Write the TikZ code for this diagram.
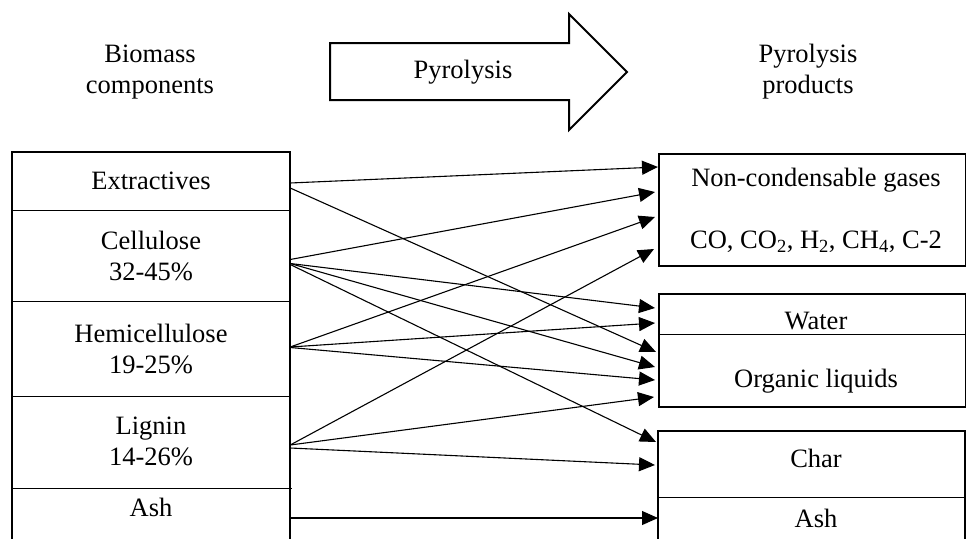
\documentclass[tikz,border=0pt]{standalone}
\usepackage{fontspec}
\setmainfont{Liberation Serif}
\usetikzlibrary{arrows.meta,calc}
\begin{document}
\begin{tikzpicture}[x=1pt,y=-1pt,
  txt/.style={font=\fontsize{26.5}{31}\selectfont, inner sep=0pt, align=center},
  lcomp/.style={txt, minimum width=278pt},
  frame/.style={line width=2.4pt},
  sep/.style={line width=1pt},
  flow/.style={line width=1.1pt, -{Triangle[length=16pt,width=14pt]}},
]
\useasboundingbox (0,0) rectangle (966,538);

% headers
\node[txt] (hleft) at (150,72) {Biomass\\components};
\node[txt] (hright) at (808,72) {Pyrolysis\\products};
\draw[frame, line width=2pt] (330,43) -- (569,43) -- (569,14) -- (627,72) -- (569,130) -- (569,100) -- (330,100) -- cycle;
\node[txt] (pyro) at (463,72) {Pyrolysis};

% left compartments
\node[lcomp, minimum height=58pt] (ext) at (151,181) {Extractives};
\node[lcomp, minimum height=91pt] (cel) at (151,255.5) {Cellulose\\32-45\%};
\node[lcomp, minimum height=95pt] (hem) at (151,348.5) {Hemicellulose\\19-25\%};
\node[lcomp, minimum height=92pt] (lig) at (151,441) {Lignin\\14-26\%};
\node[lcomp, minimum height=38pt] (ash) at (151,507) {Ash};
\draw[frame] (12,540) -- (12,152) -- (290,152) -- (290,540);
\draw[sep] (ext.south west) -- (ext.south east);
\draw[sep] (cel.south west) -- (cel.south east);
\draw[sep] (hem.south west) -- (hem.south east);
\draw[sep] (12,488) -- (292,488);

% right boxes
\node[draw, frame, minimum width=307pt, minimum height=112pt, inner sep=0pt, anchor=north west] (gas) at (658,153) {};
\node[txt] (gasA) at (816,180) {Non-condensable gases};
\node[txt] (gasB) at (816,242) {CO, CO\textsubscript{2}, H\textsubscript{2}, CH\textsubscript{4}, C-2};
\node[draw, frame, minimum width=307pt, minimum height=113pt, inner sep=0pt, anchor=north west] (liq) at (658,293) {};
\draw[sep] (658,334) -- (965,334);
\node[txt] (wat) at (816,321) {Water};
\node[txt] (org) at (816,381) {Organic liquids};
\draw[frame] (658,540) -- (658,431) -- (965,431) -- (965,540);
\draw[sep] (658,497) -- (965,497);
\node[txt] (char) at (816,458) {Char};
\node[txt] (ash2) at (816,518) {Ash};

% target points
\coordinate (g1) at (658,167);
\coordinate (g2) at (655,192);
\coordinate (g3) at (655,217);
\coordinate (g4) at (654,249);
\coordinate (w1) at (655,308);
\coordinate (w2) at (655,323);
\coordinate (o1) at (656,352);
\coordinate (o2) at (655,367);
\coordinate (o3) at (655,380);
\coordinate (o4) at (654,397);
\coordinate (c1) at (656,442);
\coordinate (c2) at (655,465);
\coordinate (a1) at (658,518);

% connectors
\draw[flow] ($(ext.east)+(0,2)$) -- (g1);
\draw[flow] ($(ext.east)+(0,7)$) -- (o1);
\draw[flow] ($(cel.east)+(0,4)$) -- (g2);
\draw[flow] ($(cel.east)+(0,8)$) -- (w1);
\draw[flow] ($(cel.east)+(0,8)$) -- (o2);
\draw[flow] ($(cel.east)+(0,9)$) -- (c1);
\draw[flow] ($(hem.east)+(0,-1.5)$) -- (g3);
\draw[flow] ($(hem.east)+(0,-1.5)$) -- (w2);
\draw[flow] ($(hem.east)+(0,-1)$) -- (o3);
\draw[flow] ($(lig.east)+(0,4)$) -- (g4);
\draw[flow] ($(lig.east)+(0,4)$) -- (o4);
\draw[flow] ($(lig.east)+(0,7)$) -- (c2);
\draw[flow] ($(ash.east)+(0,11)$) -- (a1);
\end{tikzpicture}
\end{document}
